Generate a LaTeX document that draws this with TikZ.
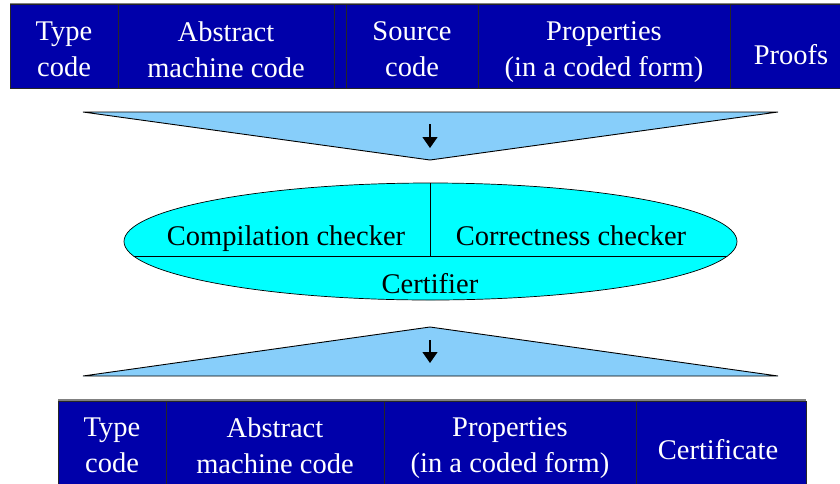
\documentclass[tikz,border=0pt]{standalone}
\usepackage{fontspec}
\setmainfont{Liberation Serif}
\usetikzlibrary{shapes.geometric,arrows.meta}
\definecolor{cellblue}{RGB}{0,0,170}
\definecolor{funnel}{RGB}{135,206,250}
\definecolor{ellcyan}{RGB}{0,255,255}
\tikzset{
  cell/.style={draw=black!85, line width=0.9pt, fill=cellblue, inner sep=0pt},
  celltext/.style={text=white, align=center, inner sep=0pt, font=\fontsize{28.5}{36}\selectfont},
  funnelshape/.style={draw=black, line width=0.9pt, fill=funnel},
  flowarrow/.style={draw=black, line width=1.1pt, -{Triangle[length=11pt,width=15pt]}},
  ellshape/.style={ellipse, draw=black, line width=0.7pt, fill=ellcyan, inner sep=0pt},
  elltext/.style={font=\fontsize{28.5}{34}\selectfont, inner sep=0pt, anchor=base},
}
\begin{document}
\begin{tikzpicture}[x=1pt,y=-1pt]
\useasboundingbox (0,0) rectangle (840,483);
% top row
\draw[gray, line width=1.2pt] (10,3.5) -- (842,3.5);
\node[cell, minimum width=108pt, minimum height=84pt] (t1) at (64,46) {};
\node[cell, minimum width=216pt, minimum height=84pt] (t2) at (226,46) {};
\node[cell, minimum width=12pt, minimum height=84pt] (t3) at (340,46) {};
\node[cell, minimum width=132pt, minimum height=84pt] (t4) at (412,46) {};
\node[cell, minimum width=252pt, minimum height=84pt] (t5) at (604,46) {};
\node[cell, minimum width=110pt, minimum height=84pt] (t6) at (785,46) {};
\node[celltext] (t1x) at ([yshift=-3.75pt]t1.center) {Type\\code};
\node[celltext] (t2x) at ([yshift=-3.5pt]t2.center) {Abstract\\machine code};
\node[celltext] (t4x) at ([yshift=-3.55pt]t4.center) {Source\\code};
\node[celltext] (t5x) at ([yshift=-5.75pt]t5.center) {Properties\\(in a coded form)};
\node[celltext, anchor=base] (t6x) at (791,64) {Proofs};
% upper funnel
\draw[funnelshape] (83,112) -- (778,112) -- (430,160) -- cycle;
\coordinate (a1s) at (430,124);
\coordinate (a1e) at (430,148);
\draw[flowarrow] (a1s) -- (a1e);
% ellipse
\node[ellshape, minimum width=613pt, minimum height=117pt] (ell) at (430.5,241.5) {};
\begin{scope}
  \clip (430.5,241.5) ellipse [x radius=306.5pt, y radius=58.5pt];
  \draw[black, line width=0.7pt] (100,256) -- (760,256);
  \draw[black, line width=0.7pt] (430,170) -- (430,256);
\end{scope}
\node[elltext] (cc) at (286,245) {Compilation checker};
\node[elltext] (rc) at (571,245) {Correctness checker};
\node[elltext] (cf) at (430,293) {Certifier};
% lower funnel
\draw[funnelshape] (83,376) -- (778,376) -- (430,327) -- cycle;
\coordinate (a2s) at (430,340);
\coordinate (a2e) at (430,363);
\draw[flowarrow] (a2s) -- (a2e);
% bottom row
\draw[gray, line width=1.2pt] (58,400) -- (806,400);
\node[cell, minimum width=108pt, minimum height=86pt] (b1) at (112,444) {};
\node[cell, minimum width=218pt, minimum height=86pt] (b2) at (275,444) {};
\node[cell, minimum width=252pt, minimum height=86pt] (b3) at (510,444) {};
\node[cell, minimum width=170pt, minimum height=86pt] (b4) at (721,444) {};
\node[celltext] (b1x) at ([yshift=-1.7pt]b1.center) {Type\\code};
\node[celltext] (b2x) at ([yshift=-1.4pt]b2.center) {Abstract\\machine code};
\node[celltext] (b3x) at ([yshift=-3.7pt]b3.center) {Properties\\(in a coded form)};
\node[celltext, anchor=base] (b4x) at (718,459) {Certificate};
\end{tikzpicture}
\end{document}
